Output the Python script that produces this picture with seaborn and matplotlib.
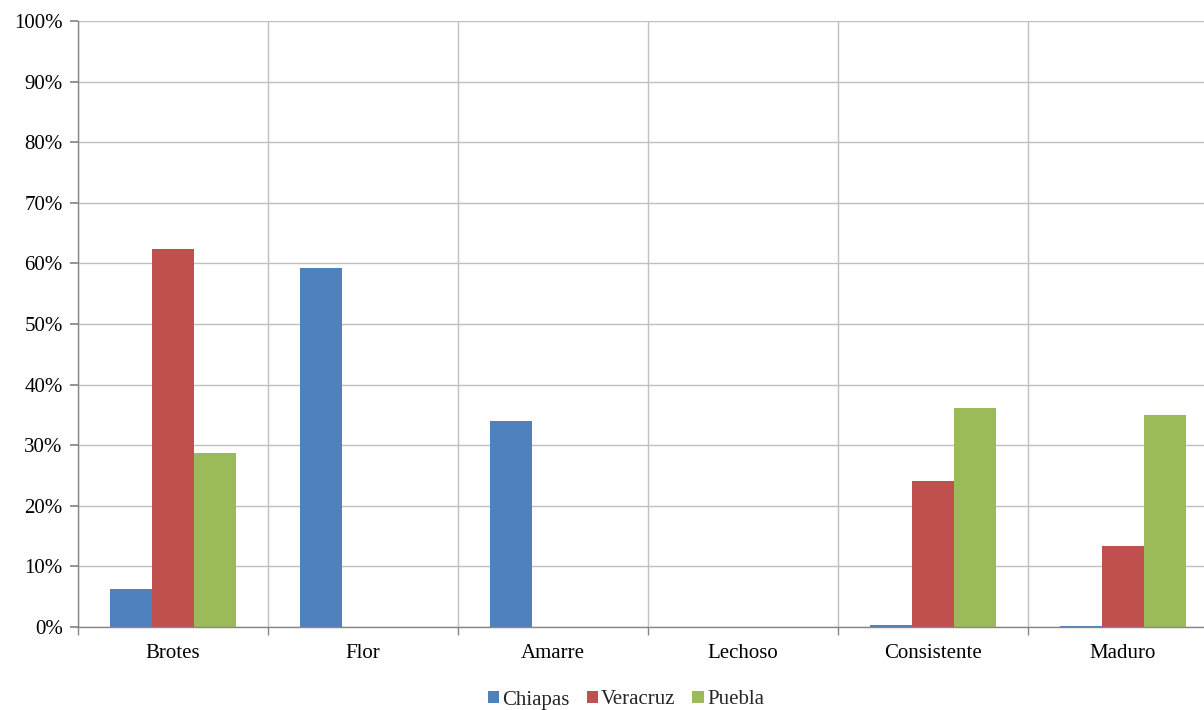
import matplotlib
matplotlib.use("Agg")
import matplotlib.pyplot as plt
import seaborn as sns
import pandas as pd
import numpy as np
from matplotlib.ticker import FixedLocator, PercentFormatter

categories = ["Brotes", "Flor", "Amarre", "Lechoso", "Consistente", "Maduro"]
series = ["Chiapas", "Veracruz", "Puebla"]
chiapas = [6.3, 59.2, 34.0, 0.0, 0.3, 0.2]
veracruz = [62.3, 0.0, 0.0, 0.0, 24.1, 13.4]
puebla = [28.7, 0.0, 0.0, 0.0, 36.1, 35.0]
colors = ["#4F81BD", "#C0504D", "#9BBB59"]

rows = []
for s, vals in zip(series, [chiapas, veracruz, puebla]):
    for c, v in zip(categories, vals):
        rows.append({"Etapa": c, "Estado": s, "Valor": v})
df = pd.DataFrame(rows)

sns.set_theme(style="white")
plt.rcParams['font.family'] = ['Liberation Serif', 'DejaVu Serif']

fig = plt.figure(figsize=(12.04, 7.10), dpi=100)
W, H = 1204, 710
ax = fig.add_axes([78 / W, (H - 627) / H, 1140 / W, (627 - 21) / H])

sns.barplot(data=df, x="Etapa", y="Valor", hue="Estado", order=categories,
            hue_order=series, palette=colors, width=0.667, gap=0,
            saturation=1, ax=ax, legend=True, edgecolor="none", linewidth=0)

ax.set_xlim(-0.5, 5.5)
ax.set_ylim(0, 100)
ax.set_yticks(np.arange(0, 101, 10))
ax.yaxis.set_major_formatter(PercentFormatter(decimals=0))
ax.xaxis.set_minor_locator(FixedLocator(np.arange(-0.5, 6.0, 1.0)))
ax.set_xlabel("")
ax.set_ylabel("")

ax.grid(True, axis="y", which="major", color="#BFBFBF", linewidth=1)
ax.grid(True, axis="x", which="minor", color="#BFBFBF", linewidth=1)
ax.grid(False, axis="x", which="major")
ax.set_axisbelow(True)

for sp in ["top", "right"]:
    ax.spines[sp].set_visible(False)
for sp in ["left", "bottom"]:
    ax.spines[sp].set_color("#868686")
    ax.spines[sp].set_linewidth(1)

ax.tick_params(axis="y", which="major", length=6, color="#868686", labelsize=15,
               labelcolor="black", direction="out", left=True, pad=5)
ax.tick_params(axis="x", which="major", length=0, labelsize=15, labelcolor="black", pad=12)
ax.tick_params(axis="x", which="minor", length=6, color="#868686", direction="out", bottom=True)

leg = ax.legend(loc="center", bbox_to_anchor=(548 / 1140, -(700 - 627) / (627 - 21)),
                ncol=3, frameon=False, fontsize=15, handlelength=0.55, handleheight=0.55,
                handletextpad=0.15, columnspacing=0.8)

fig.savefig("out.png", dpi=100)
